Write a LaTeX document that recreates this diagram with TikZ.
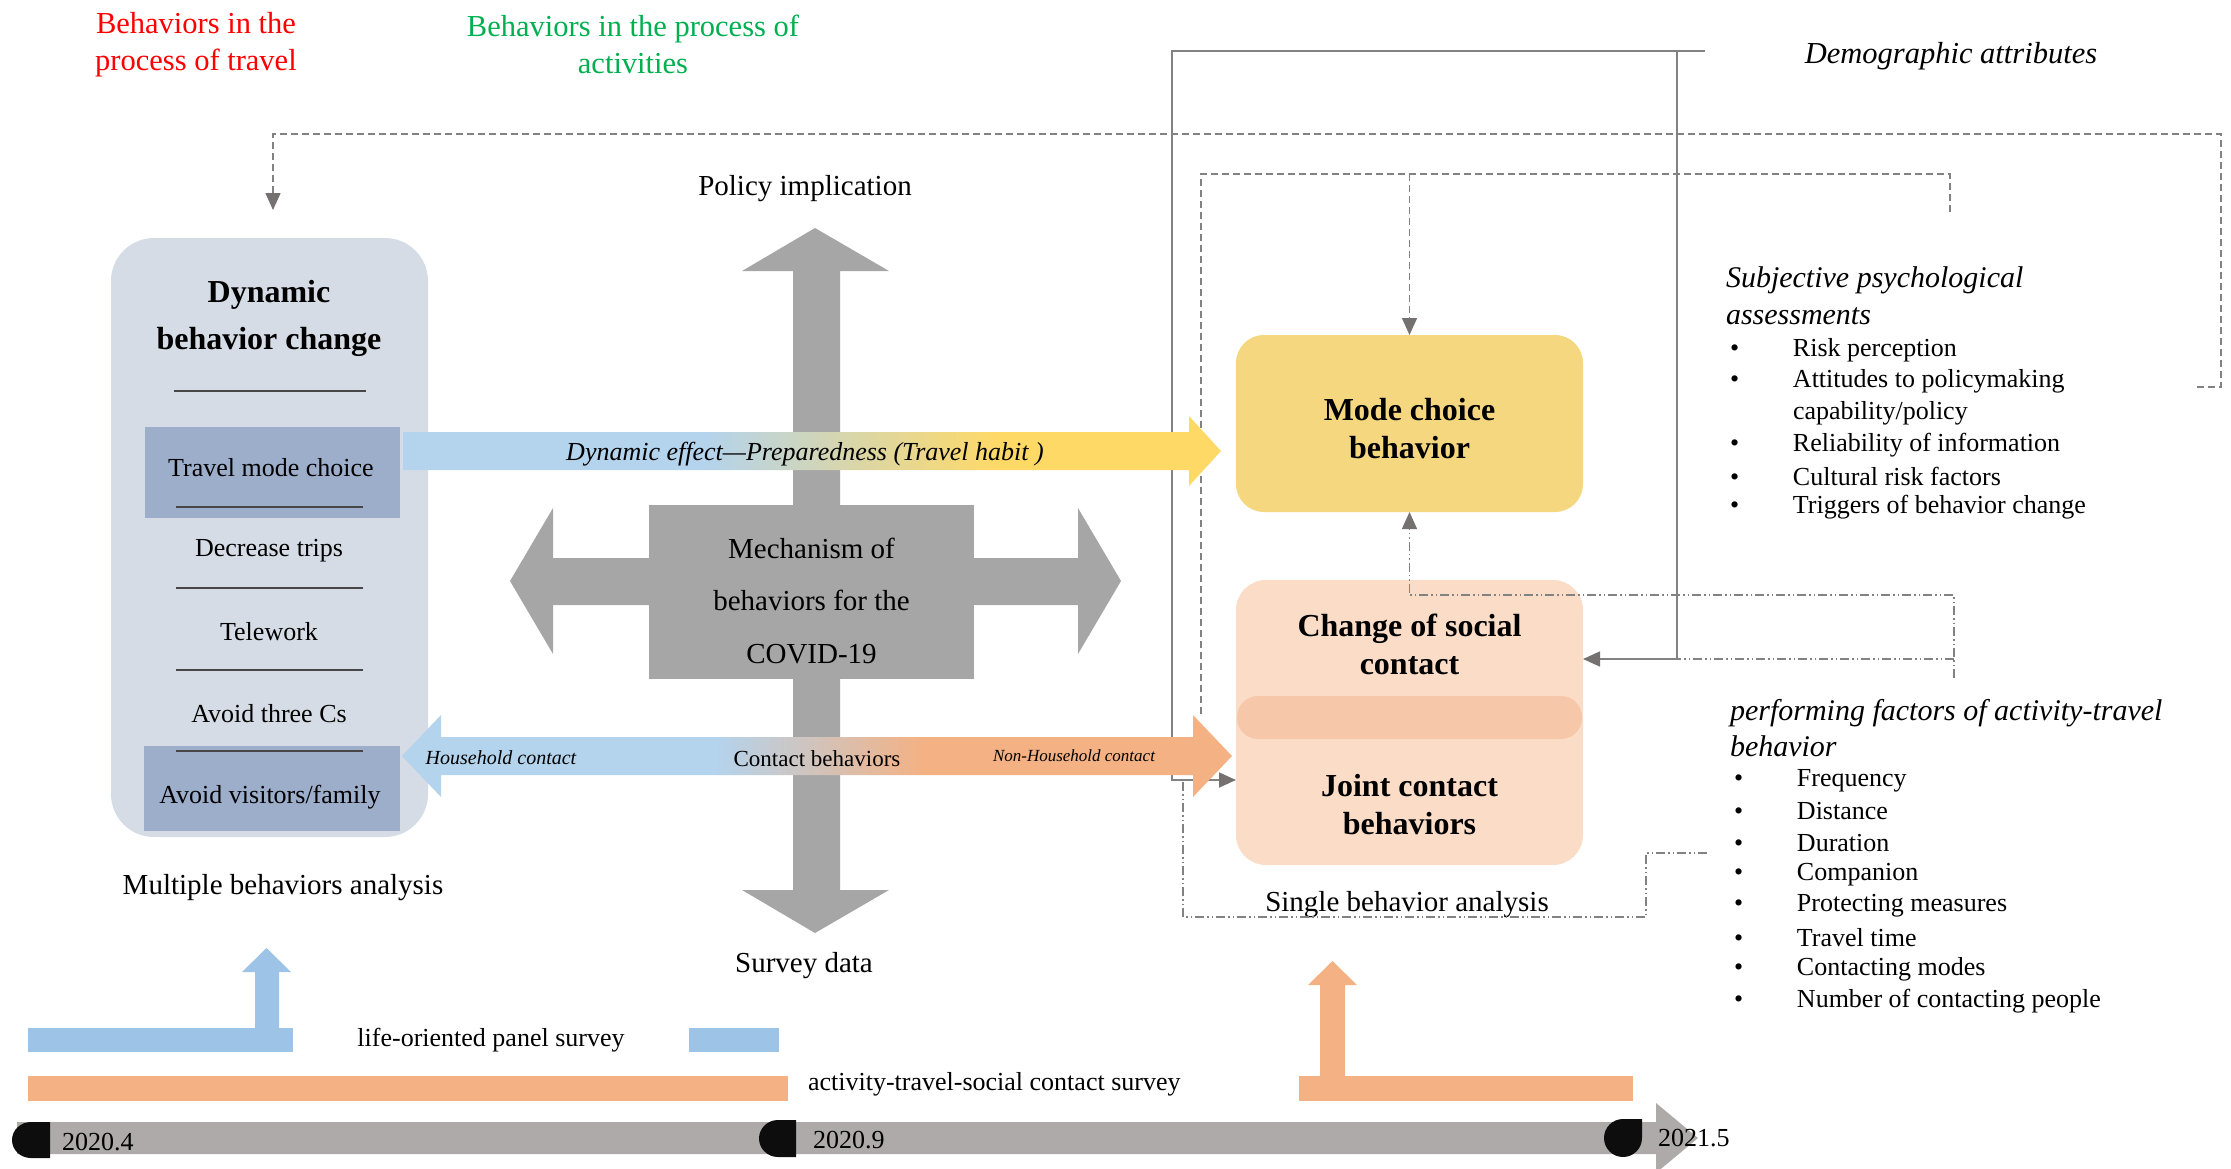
\documentclass[tikz,border=0pt]{standalone}
\usepackage{fontspec}
\setmainfont{Liberation Serif}
\usetikzlibrary{arrows.meta}

\definecolor{boxgray}{HTML}{D6DCE5}
\definecolor{hlblue}{HTML}{9DAECB}
\definecolor{crossgray}{HTML}{A6A6A6}
\definecolor{modeyel}{HTML}{F5D77F}
\definecolor{socpeach}{HTML}{FADCC7}
\definecolor{socband}{HTML}{F6C7A9}
\definecolor{barblue}{HTML}{9DC3E6}
\definecolor{barorange}{HTML}{F4B183}
\definecolor{timegray}{HTML}{AEAAAA}
\definecolor{effblue}{HTML}{B4D3EC}
\definecolor{effyel}{HTML}{FFD966}
\definecolor{linegray}{HTML}{828282}
\definecolor{tipgray}{HTML}{767171}
\definecolor{redtxt}{HTML}{FF0000}
\definecolor{greentxt}{HTML}{00B050}
\definecolor{markblack}{HTML}{0D0D0D}

% gradients of the two long horizontal arrows
\pgfdeclarehorizontalshading{effectshade}{100bp}{color(0bp)=(effblue); color(43.5bp)=(effblue); color(61.5bp)=(effyel); color(100bp)=(effyel)}
\pgfdeclarehorizontalshading{contactshade}{100bp}{color(0bp)=(effblue); color(44bp)=(effblue); color(56.5bp)=(barorange); color(100bp)=(barorange)}

\newcommand\myfs[2]{\fontsize{#1}{#2}\selectfont}
\newcommand\bul{\makebox[63pt][l]{\textbullet}}

\begin{document}
\begin{tikzpicture}[x=1pt,y=-1pt,
  every node/.style={inner sep=0pt, outer sep=0pt},
  tx/.style={yshift=-3pt},
  txt/.style={tx, font=\myfs{26}{31}},
  mid/.style={tx, font=\myfs{29}{35}},
  big/.style={tx, font=\myfs{30.5}{37}, align=center},
  head/.style={tx, font=\myfs{30}{36}\itshape},
  boldtxt/.style={tx, font=\myfs{32}{38}\bfseries, align=center},
  sepline/.style={draw=black!72, line width=1.3pt},
  gtip/.style={-{Triangle[length=17pt,width=15pt,color=tipgray]}},
  dashln/.style={draw=linegray, line width=1.5pt, dash pattern=on 7pt off 4pt},
  solidln/.style={draw=linegray, line width=1.6pt},
  dotln/.style={draw=linegray, line width=1.4pt, dash pattern=on 9pt off 3pt on 1.5pt off 3pt on 1.5pt off 3pt},
]
\useasboundingbox (0,0) rectangle (2231,1168);

% ---------- left panel: dynamic behavior change ----------
\node[fill=boxgray, rounded corners=43pt, minimum width=317pt, minimum height=599pt] (dyn) at (269.5,537.5) {};
\node[fill=hlblue, minimum width=255pt, minimum height=91pt] (hl1) at (272.5,472.5) {};
\node[fill=hlblue, minimum width=256pt, minimum height=85pt] (hl2) at (272,788.5) {};
\node[boldtxt, font=\myfs{32}{47}\bfseries] (dyntitle) at (269,315.5) {Dynamic\\behavior change};
\draw[sepline] (174,391) -- (366,391);
\node[txt] (it1) at (271,465) {Travel mode choice};
\draw[sepline] (176,507) -- (363,507);
\node[txt] (it2) at (269,548) {Decrease trips};
\draw[sepline] (176,588) -- (363,588);
\node[txt] (it3) at (269,629) {Telework};
\draw[sepline] (176,670) -- (363,670);
\node[txt] (it4) at (269,711) {Avoid three Cs};
\draw[sepline] (176,751) -- (363,751);
\node[txt] (it5) at (270,794) {Avoid visitors/family};
\node[mid] (multi) at (283,885) {Multiple behaviors analysis};

% ---------- right panel: single behavior boxes ----------
\node[fill=modeyel, rounded corners=28pt, minimum width=347pt, minimum height=177pt] (mode) at (1409.5,423.5) {};
\node[boldtxt] (modetxt) at (1409.5,426) {Mode choice\\behavior};
\node[fill=socpeach, rounded corners=30pt, minimum width=347pt, minimum height=285pt] (soc) at (1409.5,722.5) {};
\node[fill=socband, rounded corners=21pt, minimum width=345pt, minimum height=43pt] (band) at (1409.5,717.5) {};
\node[boldtxt] (chg) at (1409.5,641.5) {Change of social\\contact};
\node[boldtxt] (joint) at (1409.5,802) {Joint contact\\behaviors};
\node[mid] (single) at (1407,902) {Single behavior analysis};

% ---------- connectors ----------
\coordinate (outerR) at (2197,387);
\coordinate (dynIn) at (273,210);
\draw[dashln,gtip] (outerR) -- (2221,387) -- (2221,134) -- (273,134) -- (dynIn);

\coordinate (subjTop) at (1950,212);
\coordinate (innerL) at (1201,716);
\draw[dashln] (subjTop) -- (1950,174) -- (1201,174) -- (innerL);
\coordinate (modeIn) at (1409.5,174);
\draw[dashln,gtip] (modeIn) -- (mode.north);

\coordinate (demR) at (1705,51);
\coordinate (jn) at (1172,780);
\draw[solidln,gtip] (demR) -| (jn) -- (jn -| soc.west);
\coordinate (dtop) at (1677,51);
\coordinate (sjoin) at (1677,659);
\draw[solidln,gtip] (dtop) -- (sjoin) -- (sjoin -| soc.east);

\coordinate (pfTop) at (1954,678);
\coordinate (upA) at (1409.5,595);
\draw[dotln,gtip] (pfTop) |- (upA) -- (mode.south);
\draw[dotln] (1954,659) -- (sjoin);
\coordinate (pfLow) at (1707,853);
\coordinate (jnLow) at (1183,780);
\draw[dotln] (pfLow) -- (1646,853) -- (1646,917) -- (1183,917) -- (jnLow);

% ---------- central cross ----------
\fill[crossgray] (815,228) -- (889,271) -- (840,271) -- (840,890) -- (889,890) -- (815,933)
  -- (742,890) -- (793,890) -- (793,271) -- (742,271) -- cycle;
\fill[crossgray] (510,581) -- (553,508) -- (553,558) -- (1078,558) -- (1078,508) -- (1121,581)
  -- (1078,654) -- (1078,605) -- (553,605) -- (553,654) -- cycle;
\node[fill=crossgray, minimum width=325pt, minimum height=174pt] (mech) at (811.5,592) {};
\node[tx, align=center, font=\myfs{29}{52.5}] (mechtxt) at (811.5,597.5) {Mechanism of\\behaviors for the\\COVID-19};
\node[mid] (policy) at (805,186) {Policy implication};
\node[mid] (survey) at (804,963) {Survey data};

% ---------- gradient arrows ----------
\shade[shading=effectshade] (403,432) -- (1189,432) -- (1189,416) -- (1221,451) -- (1189,486)
  -- (1189,470) -- (403,470) -- cycle;
\node[tx, font=\myfs{26}{31}\itshape] (effect) at (805,451) {Dynamic effect---Preparedness (Travel habit~)};

\shade[shading=contactshade] (402,756) -- (441,715) -- (441,737) -- (1193,737) -- (1193,715)
  -- (1232,756) -- (1193,797) -- (1193,775) -- (441,775) -- (441,797) -- cycle;
\node[tx, font=\myfs{20}{24}\itshape] (house) at (501,755) {Household contact};
\node[tx, font=\myfs{23}{27}] (contact) at (817,756) {Contact behaviors};
\node[tx, font=\myfs{17}{20}\itshape] (nonhouse) at (1074,753) {Non-Household contact};

% ---------- headings ----------
\node[big, text=redtxt] (travelhd) at (196,41.5) {Behaviors in the\\process of travel};
\node[big, text=greentxt] (acthd) at (633,41.5) {Behaviors in the process of\\activities};
\node[tx, font=\myfs{30.5}{37}\itshape] (demo) at (1951,53) {Demographic attributes};

% ---------- factor lists ----------
\node[head, anchor=west] (subjA) at (1726,277) {Subjective psychological};
\node[head, anchor=west] (subjB) at (1726,313) {assessments};
\node[txt, anchor=west] (s1) at (1730,347) {\bul Risk perception};
\node[txt, anchor=west] (s2) at (1730,378) {\bul Attitudes to policymaking};
\node[txt, anchor=west] (s2b) at (1793,410) {capability/policy};
\node[txt, anchor=west] (s3) at (1730,442) {\bul Reliability of information};
\node[txt, anchor=west] (s4) at (1730,473) {\bul Cultural risk factors};
\node[txt, anchor=west] (s5) at (1730,504) {\bul Triggers of behavior change};

\node[head, anchor=west] (perfA) at (1730,710) {performing factors of activity-travel};
\node[head, anchor=west] (perfB) at (1730,743) {behavior};
\node[txt, anchor=west] (p1) at (1734,778) {\bul Frequency};
\node[txt, anchor=west] (p2) at (1734,808) {\bul Distance};
\node[txt, anchor=west] (p3) at (1734,840) {\bul Duration};
\node[txt, anchor=west] (p4) at (1734,872) {\bul Companion};
\node[txt, anchor=west] (p5) at (1734,903) {\bul Protecting measures};
\node[txt, anchor=west] (p6) at (1734,935) {\bul Travel time};
\node[txt, anchor=west] (p7) at (1734,966) {\bul Contacting modes};
\node[txt, anchor=west] (p8) at (1734,998) {\bul Number of contacting people};

% ---------- surveys ----------
\fill[barblue] (28,1028) rectangle (293,1052);
\fill[barblue] (255,1028) -- (255,972) -- (242,972) -- (266.5,948) -- (291,972) -- (279,972) -- (279,1028) -- cycle;
\fill[barblue] (689,1028) rectangle (779,1052);
\node[txt] (panel) at (491,1037) {life-oriented panel survey};
\fill[barorange] (28,1076) rectangle (788,1101);
\node[txt, anchor=west] (atsc) at (808,1081) {activity-travel-social contact survey};
\fill[barorange] (1299,1076) rectangle (1633,1101);
\fill[barorange] (1320,1076) -- (1320,985) -- (1308,985) -- (1332.5,961) -- (1357,985) -- (1345,985) -- (1345,1076) -- cycle;

% ---------- timeline ----------
\fill[timegray] (17,1122) -- (1656,1122) -- (1656,1103) -- (1698,1138) -- (1656,1173) -- (1656,1154) -- (17,1154) -- cycle;
\fill[markblack] (50,1122) -- (31,1122) arc[start angle=270, end angle=90, x radius=19, y radius=18] -- (50,1158) -- cycle;
\fill[markblack] (796,1120) -- (778,1120) arc[start angle=270, end angle=90, x radius=19, y radius=18.5] -- (796,1157) -- cycle;
\fill[markblack] (1642,1119) -- (1642,1138) arc[start angle=0, end angle=270, radius=19] -- cycle;
\node[txt, anchor=west] (d1) at (62,1139) {2020.4};
\node[txt, anchor=west] (d2) at (813,1137) {2020.9};
\node[txt, anchor=west] (d3) at (1658,1135) {2021.5};
\end{tikzpicture}
\end{document}
